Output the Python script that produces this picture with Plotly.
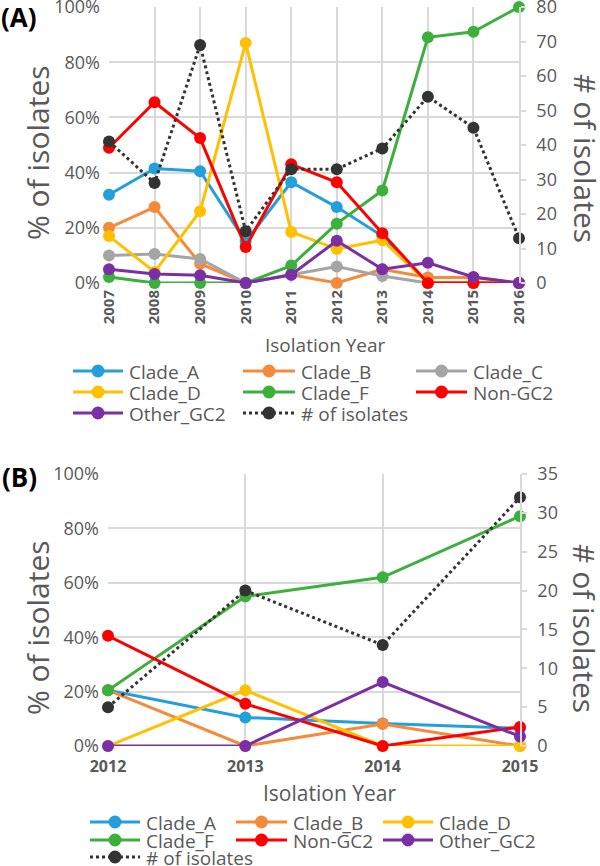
import plotly.graph_objects as go

W, H = 600, 866

# ---------------- data: panel A ----------------
years_a = [2007, 2008, 2009, 2010, 2011, 2012, 2013, 2014, 2015, 2016]
clade_a_A = [32, 41.5, 40.5, 15, 36.5, 27.5, 17, 0, 0, 0]
clade_b_A = [20, 27.5, 7, 0, 3, 0, 5, 2, 2, 0]
clade_c_A = [10, 10.5, 8.7, 0, 3, 6, 2.5, 0, 0, 0]
clade_d_A = [17, 4, 26, 87, 18.5, 12.3, 15.5, 0, 0, 0]
clade_f_A = [2.2, 0, 0, 0, 6.3, 21.5, 33.5, 89, 91, 100]
non_gc2_A = [49, 65.5, 52.5, 13, 43, 36.5, 18, 0, 0, 0]
other_gc2_A = [5, 3.3, 2.8, 0, 3, 15.3, 5, 7.3, 2.2, 0]
isolates_A = [41, 29, 69, 15, 33, 33, 39, 54, 45, 13]

# ---------------- data: panel B ----------------
years_b = [2012, 2013, 2014, 2015]
clade_a_B = [20.5, 10.5, 8.3, 6.5]
clade_b_B = [20.5, 0, 8.1, 0]
clade_d_B = [0, 20.5, 0, 0]
clade_f_B = [20.5, 55, 62, 84.5]
non_gc2_B = [40.5, 15.5, 0, 7]
other_gc2_B = [0, 0, 23.5, 3.5]
isolates_B = [5, 20, 13, 32]

names_A = ["Clade_A", "Clade_B", "Clade_C", "Clade_D", "Clade_F", "Non-GC2", "Other_GC2"]
values_A = [clade_a_A, clade_b_A, clade_c_A, clade_d_A, clade_f_A, non_gc2_A, other_gc2_A]
names_B = ["Clade_A", "Clade_B", "Clade_D", "Clade_F", "Non-GC2", "Other_GC2"]
values_B = [clade_a_B, clade_b_B, clade_d_B, clade_f_B, non_gc2_B, other_gc2_B]
iso_name = "# of isolates"

colors = {
    "Clade_A": "#23a0da",
    "Clade_B": "#f58a3a",
    "Clade_C": "#a5a5a5",
    "Clade_D": "#ffc000",
    "Clade_F": "#3cb03c",
    "Non-GC2": "#ff0000",
    "Other_GC2": "#7a2fa6",
    iso_name: "#333333",
}

FONT = "Open Sans"
TXT = "#595959"
GRID = "#d9d9d9"


def px(x):
    return x / W


def py(y):
    return 1 - y / H


fig = go.Figure()

# panel A traces
for name, vals in zip(names_A, values_A):
    fig.add_trace(go.Scatter(x=years_a, y=vals, name=name, mode="lines+markers",
                             line=dict(color=colors[name], width=3),
                             marker=dict(size=12, color=colors[name]),
                             cliponaxis=False, showlegend=False,
                             xaxis="x", yaxis="y"))
fig.add_trace(go.Scatter(x=years_a, y=isolates_A, name=iso_name, mode="lines+markers",
                         line=dict(color=colors[iso_name], width=3, dash="dot"),
                         marker=dict(size=12, color=colors[iso_name]),
                         cliponaxis=False, showlegend=False,
                         xaxis="x", yaxis="y2"))

# panel B traces
for name, vals in zip(names_B, values_B):
    fig.add_trace(go.Scatter(x=years_b, y=vals, name=name, mode="lines+markers",
                             line=dict(color=colors[name], width=3),
                             marker=dict(size=12, color=colors[name]),
                             cliponaxis=False, showlegend=False,
                             xaxis="x2", yaxis="y3"))
fig.add_trace(go.Scatter(x=years_b, y=isolates_B, name=iso_name, mode="lines+markers",
                         line=dict(color=colors[iso_name], width=3, dash="dot"),
                         marker=dict(size=12, color=colors[iso_name]),
                         cliponaxis=False, showlegend=False,
                         xaxis="x2", yaxis="y4"))

xa_dom = [px(109), px(519)]
ya_dom = [py(283), py(7)]
xb_dom = [px(108), px(520)]
yb_dom = [py(746), py(474)]

common_x = dict(showgrid=True, gridcolor=GRID, gridwidth=1.5, zeroline=False,
                showline=False, ticks="", automargin=False, fixedrange=True,
                ticklabeloverflow="allow")
left_y = dict(range=[0, 100], dtick=20, ticksuffix="%", showgrid=True, gridcolor=GRID,
              gridwidth=1.5, zeroline=False, showline=False, ticks="",
              ticklabeloverflow="allow", ticklabelstandoff=8,
              tickfont=dict(family=FONT, size=18, color=TXT), automargin=False)
right_y = dict(side="right", showgrid=False, zeroline=False, showline=True,
               linecolor=GRID, linewidth=1.5, ticks="outside", ticklen=5,
               tickcolor=GRID, tickwidth=1.5, ticklabeloverflow="allow",
               ticklabelstandoff=7,
               tickfont=dict(family=FONT, size=18, color=TXT), automargin=False)

fig.update_layout(
    width=W, height=H,
    margin=dict(l=0, r=0, t=0, b=0),
    paper_bgcolor="white", plot_bgcolor="white",
    showlegend=False,
    font=dict(family=FONT, color=TXT),
    xaxis=dict(domain=xa_dom, anchor="y", range=[2007, 2016], tickvals=years_a,
               ticktext=[str(y) for y in years_a], tickangle=-90, ticklabelstandoff=3,
               tickfont=dict(family=FONT, size=15, color=TXT, weight="bold"), **common_x),
    yaxis=dict(domain=ya_dom, anchor="x", **left_y),
    yaxis2=dict(overlaying="y", anchor="x", range=[0, 80], dtick=10, **right_y),
    xaxis2=dict(domain=xb_dom, anchor="y3", range=[2012, 2015], tickvals=years_b,
                ticktext=[str(y) for y in years_b], ticklabelstandoff=9,
                tickfont=dict(family=FONT, size=16, color=TXT, weight="bold"), **common_x),
    yaxis3=dict(domain=yb_dom, anchor="x2", **left_y),
    yaxis4=dict(overlaying="y3", anchor="x2", range=[0, 35], dtick=5, **right_y),
)

annotations = []
shapes = []


def text_ann(x, y, text, size, color=TXT, angle=0, bold=False, xanchor="center"):
    annotations.append(dict(x=px(x), y=py(y), xref="paper", yref="paper", text=text,
                            showarrow=False, textangle=angle, xanchor=xanchor,
                            yanchor="middle",
                            font=dict(family=FONT, size=size, color=color,
                                      weight="bold" if bold else "normal")))


# panel labels and axis titles
text_ann(19, 17, "(A)", 26, color="black", bold=True)
text_ann(19, 477, "(B)", 26, color="black", bold=True)
text_ann(37, 153, "% of isolates", 30, angle=-90)
text_ann(585, 158, "# of isolates", 30, angle=90)
text_ann(325, 345, "Isolation Year", 19)
text_ann(37, 628, "% of isolates", 30, angle=-90)
text_ann(585, 628, "# of isolates", 30, angle=90)
text_ann(329, 793, "Isolation Year", 21)


# legends (drawn as shapes + text)
def legend_entry(x0, x1, y, name):
    c = colors[name]
    dash = "dot" if name == iso_name else "solid"
    shapes.append(dict(type="line", xref="paper", yref="paper", x0=px(x0), x1=px(x1),
                       y0=py(y), y1=py(y), line=dict(color=c, width=3, dash=dash)))
    xm = (x0 + x1) / 2
    shapes.append(dict(type="circle", xref="paper", yref="paper", xsizemode="pixel",
                       ysizemode="pixel", xanchor=px(xm), yanchor=py(y),
                       x0=-6.5, x1=6.5, y0=-6.5, y1=6.5, fillcolor=c,
                       line=dict(width=0)))
    text_ann(x1 + 4, y + 1, name, 19, xanchor="left")


cols_A = [(73, 123), (243, 295), (416, 467)]
rows_A = [371, 392, 413]
for i, name in enumerate(names_A + [iso_name]):
    c0, c1 = cols_A[i % 3]
    legend_entry(c0, c1, rows_A[i // 3], name)

cols_B = [(90, 140), (236, 287), (383, 433)]
rows_B = [822, 840, 857]
for i, name in enumerate(names_B + [iso_name]):
    c0, c1 = cols_B[i % 3]
    legend_entry(c0, c1, rows_B[i // 3], name)

fig.update_layout(annotations=annotations, shapes=shapes)

fig.write_html("out.html", config={"displayModeBar": False},
               post_script="document.body.style.margin='0';document.body.style.padding='0';")
